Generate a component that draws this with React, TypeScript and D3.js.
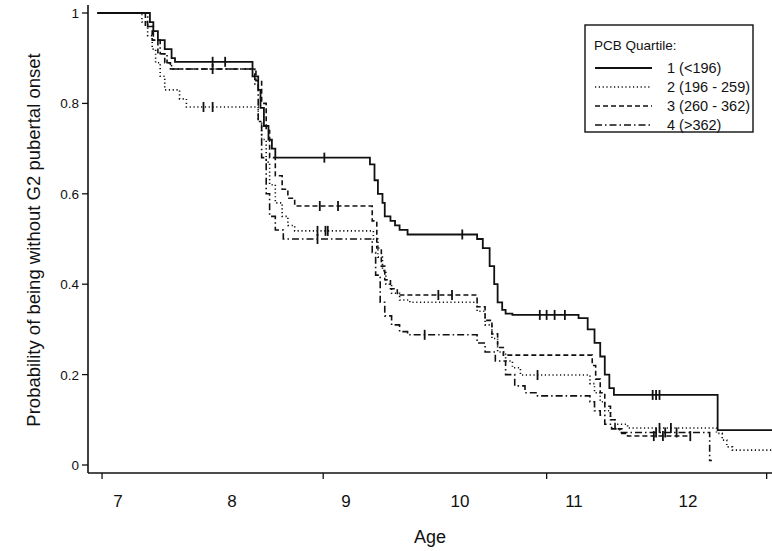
import React from "react";
import * as d3 from "d3";

// Kaplan-Meier steps: age at which the estimate changes, and the new value
const q1Ages = [6.82, 7.28, 7.31, 7.35, 7.41, 7.47, 7.5, 8.18, 8.23, 8.25, 8.28, 8.32, 8.35, 8.38, 9.21, 9.25, 9.28, 9.32, 9.34, 9.39, 9.43, 9.47, 9.54, 10.15, 10.2, 10.26, 10.3, 10.33, 10.37, 10.4, 10.46, 11.04, 11.12, 11.18, 11.23, 11.27, 11.31, 11.35, 12.26, 12.74];
const q1Surv = [1, 0.98, 0.96, 0.94, 0.92, 0.9, 0.892, 0.86, 0.83, 0.79, 0.75, 0.72, 0.7, 0.68, 0.665, 0.63, 0.6, 0.58, 0.55, 0.54, 0.53, 0.52, 0.51, 0.5, 0.48, 0.44, 0.4, 0.36, 0.343, 0.335, 0.332, 0.325, 0.3, 0.27, 0.24, 0.2, 0.17, 0.155, 0.077, 0.077];
const q1Cens = [7.83, 7.94, 8.81, 10.02, 10.7, 10.76, 10.83, 10.92, 11.69, 11.72, 11.75];

const q2Ages = [6.82, 7.21, 7.26, 7.3, 7.33, 7.37, 7.41, 7.54, 7.6, 8.23, 8.26, 8.3, 8.33, 8.38, 8.44, 8.49, 8.55, 9.24, 9.28, 9.32, 9.35, 9.4, 9.47, 9.56, 10.15, 10.22, 10.28, 10.33, 10.4, 10.46, 10.53, 11.14, 11.18, 11.23, 11.27, 11.32, 11.36, 11.47, 12.25, 12.3, 12.34, 12.39, 12.74];
const q2Surv = [1, 0.98, 0.95, 0.92, 0.89, 0.86, 0.83, 0.81, 0.792, 0.76, 0.72, 0.67, 0.62, 0.58, 0.55, 0.53, 0.518, 0.5, 0.46, 0.43, 0.4, 0.38, 0.365, 0.36, 0.34, 0.31, 0.28, 0.25, 0.23, 0.215, 0.199, 0.18, 0.16, 0.14, 0.12, 0.1, 0.09, 0.082, 0.07, 0.055, 0.04, 0.033, 0.033];
const q2Cens = [7.75, 7.83, 8.75, 8.82, 8.84, 10.68, 11.75, 11.85];

const q3Ages = [6.82, 7.24, 7.3, 7.35, 7.41, 7.46, 8.21, 8.26, 8.3, 8.33, 8.38, 8.44, 8.49, 8.55, 9.23, 9.27, 9.31, 9.34, 9.39, 9.45, 10.15, 10.22, 10.28, 10.33, 10.38, 11.16, 11.19, 11.23, 11.27, 11.32, 11.36, 11.42, 11.47, 12.02];
const q3Surv = [1, 0.97, 0.94, 0.91, 0.89, 0.876, 0.85, 0.8, 0.74, 0.68, 0.64, 0.61, 0.59, 0.573, 0.54, 0.48, 0.44, 0.41, 0.39, 0.376, 0.35, 0.32, 0.29, 0.26, 0.243, 0.22, 0.19, 0.16, 0.13, 0.1, 0.08, 0.07, 0.064, 0.064];
const q3Cens = [7.83, 8.77, 8.93, 9.81, 9.93, 11.7, 11.78, 12.02];

const q4Ages = [6.82, 7.26, 7.31, 7.37, 7.43, 7.47, 8.2, 8.23, 8.26, 8.3, 8.33, 8.38, 8.45, 9.23, 9.26, 9.3, 9.34, 9.4, 9.47, 9.54, 10.15, 10.22, 10.31, 10.4, 10.48, 10.57, 10.68, 11.14, 11.18, 11.23, 11.27, 11.33, 11.4, 12.19, 12.21];
const q4Surv = [1, 0.97, 0.94, 0.91, 0.89, 0.876, 0.84, 0.76, 0.68, 0.6, 0.55, 0.52, 0.5, 0.47, 0.42, 0.36, 0.33, 0.31, 0.295, 0.288, 0.27, 0.25, 0.23, 0.2, 0.175, 0.16, 0.153, 0.14, 0.12, 0.11, 0.09, 0.08, 0.072, 0.01, 0.01];
const q4Cens = [8.75, 9.69, 11.72, 11.8, 11.9];

const legendLabels = ["1 (<196)", "2 (196 - 259)", "3 (260 - 362)", "4 (>362)"];
const dashes = ["none", "1.2,2.6", "5,3", "7,3,1.5,3"];
const xTickLabels = [7, 8, 9, 10, 11, 12];
const xTickMarks = [6.86, 8.8, 10.76, 12.69];
const yTicks = [0, 0.2, 0.4, 0.6, 0.8, 1];

const series = [
  { ages: q1Ages, surv: q1Surv, cens: q1Cens },
  { ages: q2Ages, surv: q2Surv, cens: q2Cens },
  { ages: q3Ages, surv: q3Surv, cens: q3Cens },
  { ages: q4Ages, surv: q4Surv, cens: q4Cens },
];

const font = "Liberation Sans, Arial, sans-serif";
const ink = "#111";

export default function App() {
  const x = d3.scaleLinear().domain([7, 12]).range([118, 688]);
  const y = d3.scaleLinear().domain([0, 1]).range([465, 13]);
  const axisY = 473;
  const axisX = 88;

  const line = d3
    .line<[number, number]>()
    .x((d) => x(d[0]))
    .y((d) => y(d[1]))
    .curve(d3.curveStepAfter);

  // value of a step curve at a given age
  const valueAt = (ages: number[], surv: number[], a: number) => {
    const i = d3.bisectRight(ages, a) - 1;
    return surv[Math.max(0, i)];
  };

  return (
    <svg
      width={772}
      height={551}
      style={{ position: "absolute", left: 0, top: 0, background: "#fff" }}
      fontFamily={font}
    >
      {/* axes */}
      <line x1={axisX} x2={axisX} y1={5} y2={axisY} stroke={ink} strokeWidth={1.6} />
      <line x1={axisX} x2={772} y1={axisY} y2={axisY} stroke={ink} strokeWidth={1.6} />
      {yTicks.map((t) => (
        <g key={t}>
          <line x1={axisX - 6} x2={axisX} y1={y(t)} y2={y(t)} stroke={ink} strokeWidth={1.3} />
          <text x={axisX - 9} y={y(t) + 5} textAnchor="end" fontSize={13.5} fill={ink}>
            {t === 0 || t === 1 ? t : t.toFixed(1)}
          </text>
        </g>
      ))}
      {xTickMarks.map((t) => (
        <line key={t} x1={x(t)} x2={x(t)} y1={axisY} y2={axisY + 6} stroke={ink} strokeWidth={1.3} />
      ))}
      {xTickLabels.map((t) => (
        <text key={t} x={x(t)} y={507} textAnchor="middle" fontSize={17} fill={ink}>
          {t}
        </text>
      ))}
      <text x={430} y={543} textAnchor="middle" fontSize={18} fill={ink}>
        Age
      </text>
      <text
        transform="translate(40,240) rotate(-90)"
        textAnchor="middle"
        fontSize={18.5}
        fill={ink}
      >
        Probability of being without G2 pubertal onset
      </text>

      {/* curves */}
      {series.map((s, k) => {
        const pts = s.ages.map((a, i) => [a, s.surv[i]] as [number, number]);
        return (
          <g key={k}>
            <path
              d={line(pts) || ""}
              fill="none"
              stroke={ink}
              strokeWidth={k === 0 ? 1.8 : 1.6}
              strokeDasharray={dashes[k]}
            />
            {s.cens.map((c, j) => {
              const v = valueAt(s.ages, s.surv, c);
              return (
                <line
                  key={j}
                  x1={x(c)}
                  x2={x(c)}
                  y1={y(v) - 5}
                  y2={y(v) + 5}
                  stroke={ink}
                  strokeWidth={1.8}
                />
              );
            })}
          </g>
        );
      })}

      {/* legend */}
      <rect x={585} y={25} width={168} height={107} fill="#fff" stroke={ink} strokeWidth={1.4} />
      <text x={594} y={50} fontSize={13.5} fill={ink}>
        PCB Quartile:
      </text>
      {legendLabels.map((lab, i) => (
        <g key={lab}>
          <line
            x1={595}
            x2={652}
            y1={68 + i * 19}
            y2={68 + i * 19}
            stroke={ink}
            strokeWidth={i === 0 ? 1.8 : 1.6}
            strokeDasharray={dashes[i]}
          />
          <text x={667} y={73 + i * 19} fontSize={14.5} fill={ink}>
            {lab}
          </text>
        </g>
      ))}
    </svg>
  );
}
